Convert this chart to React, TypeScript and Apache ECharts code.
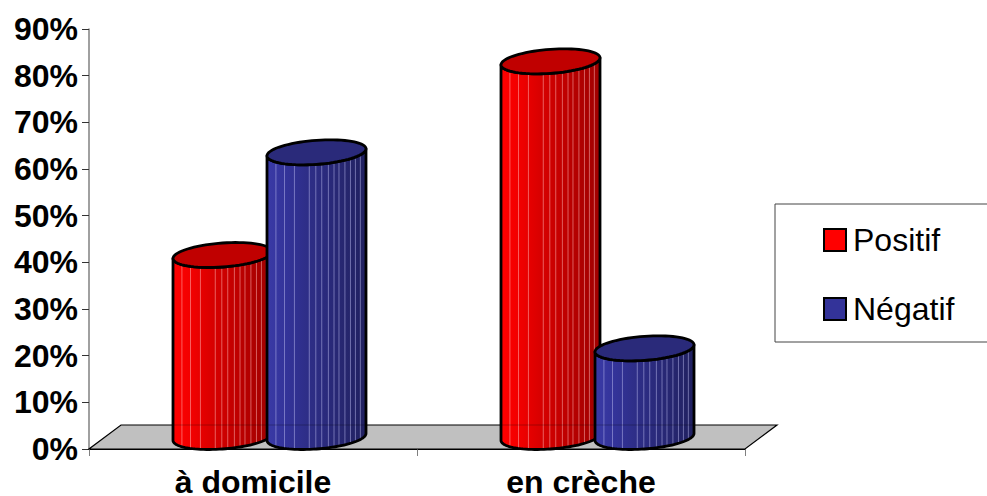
import React, { useEffect, useRef } from "react";
import * as echarts from "echarts";

const categories = ["à domicile", "en crèche"];
const positif = [39, 80.5];
const negatif = [61, 19];
const yMax = 90;
const yInterval = 10;

const FONT = "'Liberation Sans', Arial, sans-serif";
const DEPTH_X = 32;
const DEPTH_Y = 24;
const HALF_W = 49.5;
const ELL_B = 12;
const ELL_TILT = 3.5;
const STRIPES = [0.09, 0.177, 0.277, 0.427, 0.493, 0.553, 0.62, 0.677, 0.727, 0.787, 0.843, 0.893, 0.943];

const ellipse = (cx: number, cy: number, from: number, to: number, n = 48) => {
  const pts: number[][] = [];
  for (let i = 0; i <= n; i++) {
    const t = from + ((to - from) * i) / n;
    pts.push([cx + HALF_W * Math.cos(t), cy + ELL_B * Math.sin(t) - ELL_TILT * Math.cos(t)]);
  }
  return pts;
};
const lowerY = (cy: number, dx: number) => {
  const c = dx / HALF_W;
  return cy + ELL_B * Math.sqrt(Math.max(0, 1 - c * c)) - ELL_TILT * c;
};

const cylinder = (shift: number, stops: string[], topColor: string, stripe: string) => (params: any, api: any) => {
  const idx = api.value(0);
  const [x, yTop] = api.coord([idx, api.value(1)]);
  const [, yBase] = api.coord([idx, 0]);
  const cx = x + DEPTH_X / 2 + shift;
  const top = yTop - DEPTH_Y / 2;
  const bottom = yBase - DEPTH_Y / 2;
  const body = [...ellipse(cx, bottom, Math.PI, 0), ...ellipse(cx, top, 0, Math.PI)];
  const fill = new echarts.graphic.LinearGradient(
    0, 0, 1, 0,
    stops.map((color, i) => ({ offset: i / (stops.length - 1), color }))
  );
  const children: any[] = [
    { type: "polygon", shape: { points: body }, style: { fill, stroke: "none" } },
  ];
  STRIPES.forEach((f) => {
    const dx = -HALF_W + f * 2 * HALF_W;
    children.push({
      type: "line",
      shape: { x1: cx + dx, y1: lowerY(top, dx), x2: cx + dx, y2: lowerY(bottom, dx) },
      style: { stroke: stripe, lineWidth: 1 },
    });
  });
  const floorBackY = yBase - DEPTH_Y;
  if (floorBackY > lowerY(top, 0)) {
    children.push({
      type: "line",
      shape: { x1: cx - HALF_W, y1: floorBackY, x2: cx + HALF_W, y2: floorBackY },
      style: { stroke: "rgba(0,0,0,0.25)", lineWidth: 1 },
    });
  }
  children.push({
    type: "polygon",
    shape: { points: body },
    style: { fill: "none", stroke: "#000", lineWidth: 2.8, lineJoin: "round" },
  });
  children.push({
    type: "polygon",
    shape: { points: ellipse(cx, top, 0, Math.PI * 2, 72) },
    style: { fill: topColor, stroke: "#000", lineWidth: 2.8 },
  });
  return { type: "group", children };
};

const floorItem = (params: any, api: any) => {
  const r = params.coordSys;
  const y0 = r.y + r.height;
  return {
    type: "polygon",
    shape: {
      points: [
        [r.x, y0],
        [r.x + r.width, y0],
        [r.x + r.width + DEPTH_X, y0 - DEPTH_Y],
        [r.x + DEPTH_X, y0 - DEPTH_Y],
      ],
    },
    style: { fill: "#c0c0c0", stroke: "#000", lineWidth: 1.2 },
  };
};

export default function App() {
  const ref = useRef<HTMLDivElement>(null);
  useEffect(() => {
    const chart = echarts.init(ref.current!, null, { renderer: "svg" });
    chart.setOption({
      animation: false,
      backgroundColor: "#fff",
      grid: { left: 89, top: 29, right: 242, bottom: 47, containLabel: false, outerBoundsMode: "none" },
      legend: {
        data: ["Positif", "Négatif"],
        orient: "vertical",
        left: 775,
        top: 204,
        padding: [20, 60, 17, 48],
        itemWidth: 22,
        itemHeight: 22,
        itemGap: 37,
        icon: "rect",
        backgroundColor: "#fff",
        borderColor: "#444",
        borderWidth: 1,
        borderRadius: 0,
        itemStyle: { borderColor: "#000", borderWidth: 2 },
        textStyle: { fontFamily: FONT, fontSize: 32, color: "#000", padding: [0, 0, 0, 2] },
        selectedMode: false,
      },
      xAxis: {
        type: "category",
        data: categories,
        axisLine: { show: true, lineStyle: { color: "#000", width: 1 } },
        axisTick: { show: true, length: 7, lineStyle: { color: "#808080", width: 1 } },
        axisLabel: { fontFamily: FONT, fontSize: 32, lineHeight: 26, fontWeight: "bold", color: "#000", margin: 20 },
        splitLine: { show: false },
      },
      yAxis: {
        type: "value",
        min: 0,
        max: yMax,
        interval: yInterval,
        axisLine: { show: true, lineStyle: { color: "#808080", width: 1.5 } },
        axisTick: { show: true, length: 7, lineStyle: { color: "#333", width: 1 } },
        axisLabel: { fontFamily: FONT, fontSize: 32, fontWeight: "bold", color: "#000", margin: 11, formatter: "{value}%" },
        splitLine: { show: false },
      },
      series: [
        { type: "custom", name: "floor", data: [0], renderItem: floorItem, silent: true, clip: false, z: 1 },
        {
          type: "custom",
          name: "Positif",
          itemStyle: { color: "#ff0000" },
          data: positif.map((v, i) => [i, v]),
          encode: { x: 0, y: 1 },
          clip: false,
          z: 3,
          renderItem: cylinder(-46.5, ["#ff0000", "#f00000", "#d80000", "#c40000", "#b00000", "#a00000"], "#c00000", "rgba(255,190,190,0.5)"),
        },
        {
          type: "custom",
          name: "Négatif",
          itemStyle: { color: "#333399" },
          data: negatif.map((v, i) => [i, v]),
          encode: { x: 0, y: 1 },
          clip: false,
          z: 4,
          renderItem: cylinder(47.5, ["#3a3aa6", "#333399", "#2e2e88", "#2a2a7c", "#26266e", "#202060"], "#2a2a7a", "rgba(190,190,240,0.5)"),
        },
      ],
    });
    return () => chart.dispose();
  }, []);
  return <div ref={ref} style={{ position: "absolute", left: 0, top: 0, width: 987, height: 496 }} />;
}
